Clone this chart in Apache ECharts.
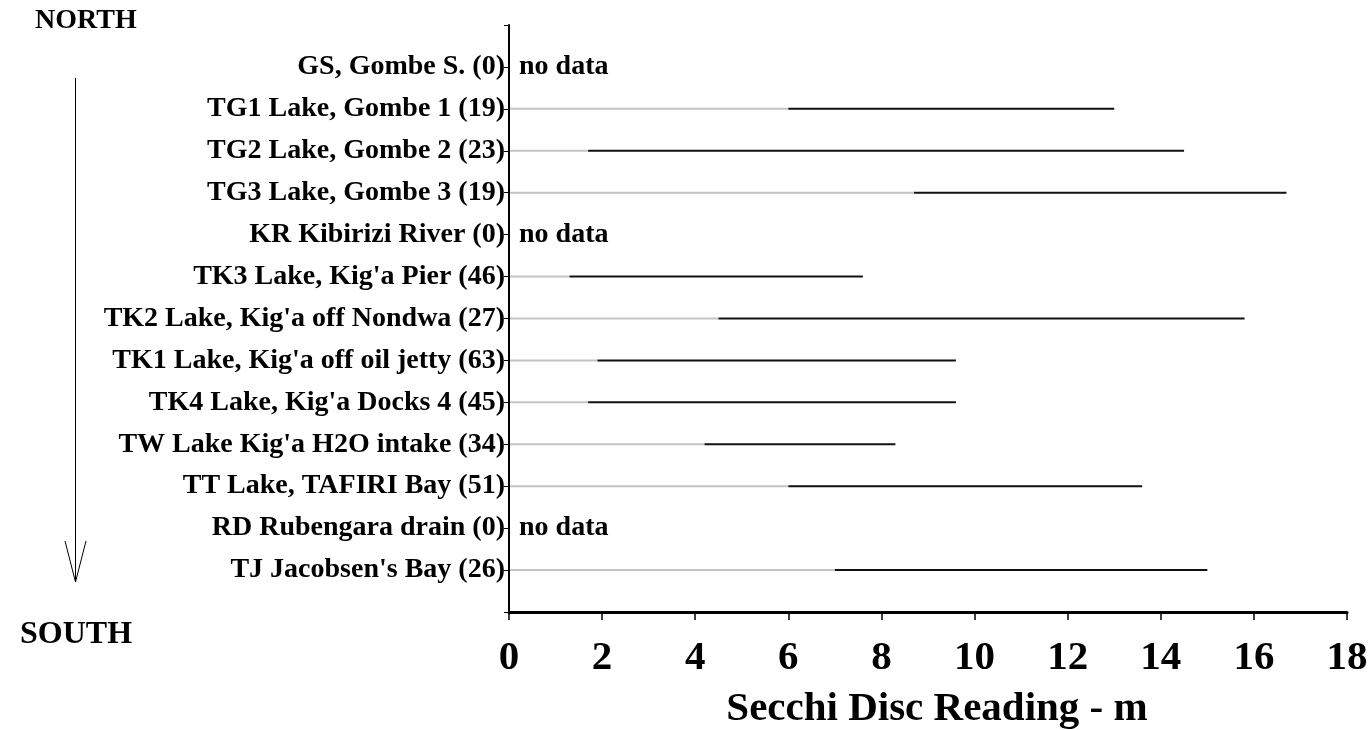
<!DOCTYPE html>
<html>
<head>
<meta charset="utf-8">
<title>Secchi Disc Reading by site</title>
<script src="https://cdn.jsdelivr.net/npm/echarts@6/dist/echarts.min.js"></script>
<style>
  html, body { margin: 0; padding: 0; background: #ffffff; }
  #chart { width: 1372px; height: 730px; }
</style>
</head>
<body>
<div id="chart"></div>
<script>
// Sampling sites, listed north to south, with number of readings in brackets
const sites = [
  'GS, Gombe S. (0)',
  'TG1 Lake, Gombe 1 (19)',
  'TG2 Lake, Gombe 2 (23)',
  'TG3 Lake, Gombe 3 (19)',
  'KR Kibirizi River (0)',
  "TK3 Lake, Kig'a Pier (46)",
  "TK2 Lake, Kig'a off Nondwa (27)",
  "TK1 Lake, Kig'a off oil jetty (63)",
  "TK4 Lake, Kig'a Docks 4 (45)",
  "TW Lake Kig'a H2O intake (34)",
  'TT Lake, TAFIRI Bay (51)',
  'RD Rubengara drain (0)',
  "TJ Jacobsen's Bay (26)"
];

// Range of Secchi disc readings (m); null where no data was collected
const minDepth = [null, 6.0, 1.7, 8.7, null, 1.3, 4.5, 1.9, 1.7, 4.2, 6.0, null, 7.0];
const maxDepth = [null, 13.0, 14.5, 16.7, null, 7.6, 15.8, 9.6, 9.6, 8.3, 13.6, null, 15.0];

const xTicks = [0, 2, 4, 6, 8, 10, 12, 14, 16, 18];

const FONT = '"Liberation Serif", "Times New Roman", serif';

// rows are placed at 1..13 on a 0..14 vertical scale
const rangeData = [];
const noData = [];
sites.forEach((s, i) => {
  if (minDepth[i] == null) noData.push([0, i + 1]);
  else rangeData.push([i + 1, minDepth[i], maxDepth[i]]);
});

const chart = echarts.init(document.getElementById('chart'), null, { renderer: 'canvas' });

chart.setOption({
  backgroundColor: '#ffffff',
  animation: false,
  grid: { left: 509, right: 25, top: 25, bottom: 118, containLabel: false, outerBoundsMode: 'none' },
  xAxis: {
    type: 'value',
    min: xTicks[0],
    max: xTicks[xTicks.length - 1],
    interval: 2,
    position: 'bottom',
    axisLine: { onZero: false, lineStyle: { color: '#000', width: 3 } },
    axisTick: { show: true, inside: false, length: 8, lineStyle: { color: '#000', width: 1.5 } },
    splitLine: { show: false },
    axisLabel: {
      margin: 26,
      color: '#000',
      fontFamily: FONT,
      fontWeight: 'bold',
      fontSize: 41
    },
    name: 'Secchi Disc Reading - m',
    nameLocation: 'middle',
    nameGap: 97,
    nameTextStyle: {
      color: '#000',
      fontFamily: FONT,
      fontWeight: 'bold',
      fontSize: 41,
      verticalAlign: 'middle',
      padding: [0, 0, 0, 18]
    }
  },
  yAxis: {
    type: 'value',
    min: 0,
    max: sites.length + 1,
    interval: 1,
    inverse: true,
    axisLine: { show: true, onZero: false, lineStyle: { color: '#000', width: 2 } },
    axisTick: { show: true, inside: false, length: 5, lineStyle: { color: '#000', width: 1 } },
    splitLine: { show: false },
    axisLabel: {
      margin: 4,
      color: '#000',
      fontFamily: FONT,
      fontWeight: 'bold',
      fontSize: 28,
      formatter: function (v) {
        const i = Math.round(v) - 1;
        return (i >= 0 && i < sites.length) ? sites[i] : '';
      }
    }
  },
  series: [
    {
      // grey lead from 0 to the shallowest reading, black from min to max
      type: 'custom',
      name: 'range',
      data: rangeData,
      encode: { x: [1, 2], y: 0 },
      renderItem: function (params, api) {
        const row = api.value(0);
        const p0 = api.coord([0, row]);
        const p1 = api.coord([api.value(1), row]);
        const p2 = api.coord([api.value(2), row]);
        return {
          type: 'group',
          children: [
            {
              type: 'line',
              shape: { x1: p0[0] + 1, y1: p0[1], x2: p1[0], y2: p1[1] },
              style: { stroke: '#c4c4c4', lineWidth: 2 }
            },
            {
              type: 'line',
              shape: { x1: p1[0], y1: p1[1], x2: p2[0], y2: p2[1] },
              style: { stroke: '#111', lineWidth: 2 }
            }
          ]
        };
      }
    },
    {
      type: 'custom',
      name: 'no data',
      data: noData,
      encode: { x: 0, y: 1 },
      renderItem: function (params, api) {
        const p = api.coord([api.value(0), api.value(1)]);
        return {
          type: 'text',
          x: p[0] + 10,
          y: p[1],
          style: {
            text: 'no data',
            fill: '#000',
            font: 'bold 28px ' + FONT,
            textAlign: 'left',
            textVerticalAlign: 'middle'
          }
        };
      }
    }
  ],
  graphic: [
    {
      type: 'text',
      left: 35,
      top: 7,
      style: { text: 'NORTH', fill: '#000', font: 'bold 28px ' + FONT }
    },
    {
      type: 'text',
      left: 20,
      top: 619,
      style: { text: 'SOUTH', fill: '#000', font: 'bold 32px ' + FONT }
    },
    {
      type: 'line',
      shape: { x1: 75.5, y1: 78, x2: 75.5, y2: 582 },
      style: { stroke: '#000', lineWidth: 1 }
    },
    {
      type: 'polyline',
      shape: { points: [[65, 541], [75.5, 582], [86, 541]] },
      style: { stroke: '#000', lineWidth: 1, fill: null }
    }
  ]
});
</script>
</body>
</html>
